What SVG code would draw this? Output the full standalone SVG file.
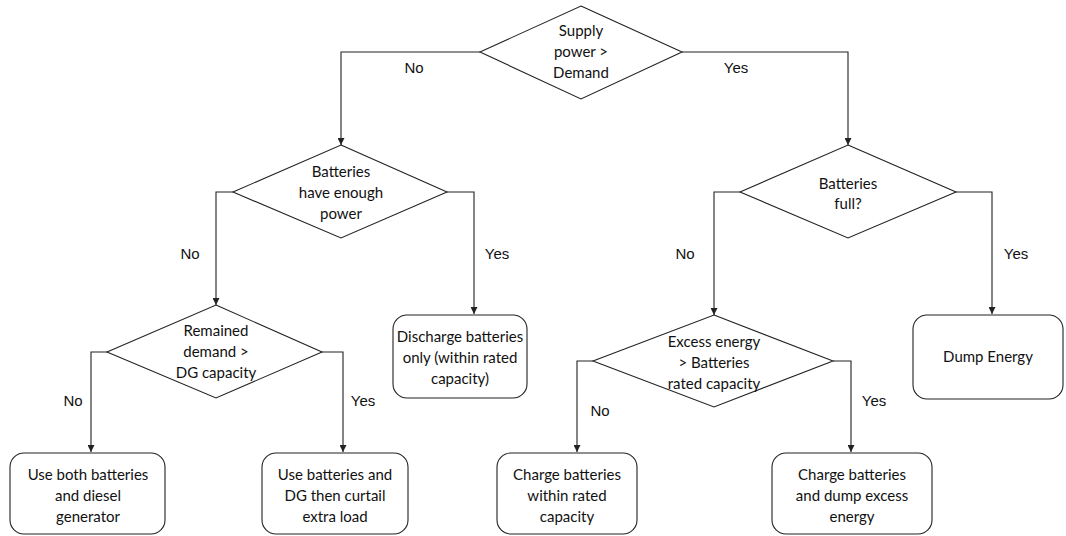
<svg xmlns="http://www.w3.org/2000/svg" width="1066" height="536" viewBox="0 0 1066 536">
  <defs>
    <marker id="arrow" viewBox="0 0 10 10" refX="10" refY="5" markerWidth="7" markerHeight="7" markerUnits="userSpaceOnUse" orient="auto">
      <path d="M0,0 L10,5 L0,10 z" fill="#222"/>
    </marker>
    <style>
      .shape { fill: #fff; stroke: #222; stroke-width: 1.1; }
      .link { fill: none; stroke: #222; stroke-width: 1.1; marker-end: url(#arrow); }
      .txt { font-family: Lato, "Open Sans", sans-serif; font-size: 15px; fill: #111; text-anchor: middle; }
      .lbl { font-family: "Liberation Sans", Arial, sans-serif; font-size: 15px; fill: #111; text-anchor: middle; }
    </style>
  </defs>
  <rect width="1066" height="536" fill="#fff"/>

  <!-- connectors -->
  <g id="connectors">
    <path class="link" d="M480,52 H341 V145"/>
    <path class="link" d="M682,52 H848 V145"/>
    <path class="link" d="M233,192 H216 V305"/>
    <path class="link" d="M447,192 H474 V314"/>
    <path class="link" d="M107,352 H91 V452"/>
    <path class="link" d="M322,352 H343 V452"/>
    <path class="link" d="M740,192 H714 V315"/>
    <path class="link" d="M956,192 H992 V314"/>
    <path class="link" d="M593,361 H577 V452"/>
    <path class="link" d="M833,361 H851 V452"/>
    <text class="lbl" x="414" y="73">No</text>
    <text class="lbl" x="736" y="73">Yes</text>
    <text class="lbl" x="190" y="259">No</text>
    <text class="lbl" x="497" y="259">Yes</text>
    <text class="lbl" x="73" y="406">No</text>
    <text class="lbl" x="363" y="406">Yes</text>
    <text class="lbl" x="685" y="259">No</text>
    <text class="lbl" x="1016" y="259">Yes</text>
    <text class="lbl" x="600" y="416">No</text>
    <text class="lbl" x="874" y="406">Yes</text>
  </g>

  <!-- decisions -->
  <g id="supply-vs-demand">
    <polygon class="shape" points="581,6 682,52 581,99 480,52"/>
    <text class="txt" x="581" y="36">Supply</text>
    <text class="txt" x="581" y="57">power &gt;</text>
    <text class="txt" x="581" y="78">Demand</text>
  </g>
  <g id="batteries-enough">
    <polygon class="shape" points="341,145 447,192 341,238 233,192"/>
    <text class="txt" x="341" y="177">Batteries</text>
    <text class="txt" x="341" y="198">have enough</text>
    <text class="txt" x="341" y="219">power</text>
  </g>
  <g id="remained-demand">
    <polygon class="shape" points="216,305 322,352 216,398 107,352"/>
    <text class="txt" x="216" y="336">Remained</text>
    <text class="txt" x="216" y="357">demand &gt;</text>
    <text class="txt" x="216" y="378">DG capacity</text>
  </g>
  <g id="batteries-full">
    <polygon class="shape" points="848,145 956,192 848,238 740,192"/>
    <text class="txt" x="848" y="189">Batteries</text>
    <text class="txt" x="848" y="209">full?</text>
  </g>
  <g id="excess-energy">
    <polygon class="shape" points="714,315 833,361 714,407 593,361"/>
    <text class="txt" x="714" y="347">Excess energy</text>
    <text class="txt" x="714" y="368">&gt; Batteries</text>
    <text class="txt" x="714" y="389">rated capacity</text>
  </g>

  <!-- actions -->
  <g id="use-both">
    <rect class="shape" x="10" y="453" width="155" height="81" rx="14"/>
    <text class="txt" x="88" y="480">Use both batteries</text>
    <text class="txt" x="88" y="501">and diesel</text>
    <text class="txt" x="88" y="522">generator</text>
  </g>
  <g id="curtail-load">
    <rect class="shape" x="262" y="453" width="146" height="81" rx="14"/>
    <text class="txt" x="335" y="480">Use batteries and</text>
    <text class="txt" x="335" y="501">DG then curtail</text>
    <text class="txt" x="335" y="522">extra load</text>
  </g>
  <g id="discharge-only">
    <rect class="shape" x="393" y="315" width="134" height="83" rx="14"/>
    <text class="txt" x="460" y="342">Discharge batteries</text>
    <text class="txt" x="460" y="363">only (within rated</text>
    <text class="txt" x="460" y="384">capacity)</text>
  </g>
  <g id="charge-within">
    <rect class="shape" x="497" y="453" width="140" height="81" rx="14"/>
    <text class="txt" x="567" y="480">Charge batteries</text>
    <text class="txt" x="567" y="501">within rated</text>
    <text class="txt" x="567" y="522">capacity</text>
  </g>
  <g id="charge-and-dump">
    <rect class="shape" x="772" y="453" width="160" height="81" rx="14"/>
    <text class="txt" x="852" y="480">Charge batteries</text>
    <text class="txt" x="852" y="501">and dump excess</text>
    <text class="txt" x="852" y="522">energy</text>
  </g>
  <g id="dump-energy">
    <rect class="shape" x="913" y="315" width="150" height="84" rx="14"/>
    <text class="txt" x="988" y="362">Dump Energy</text>
  </g>
</svg>
